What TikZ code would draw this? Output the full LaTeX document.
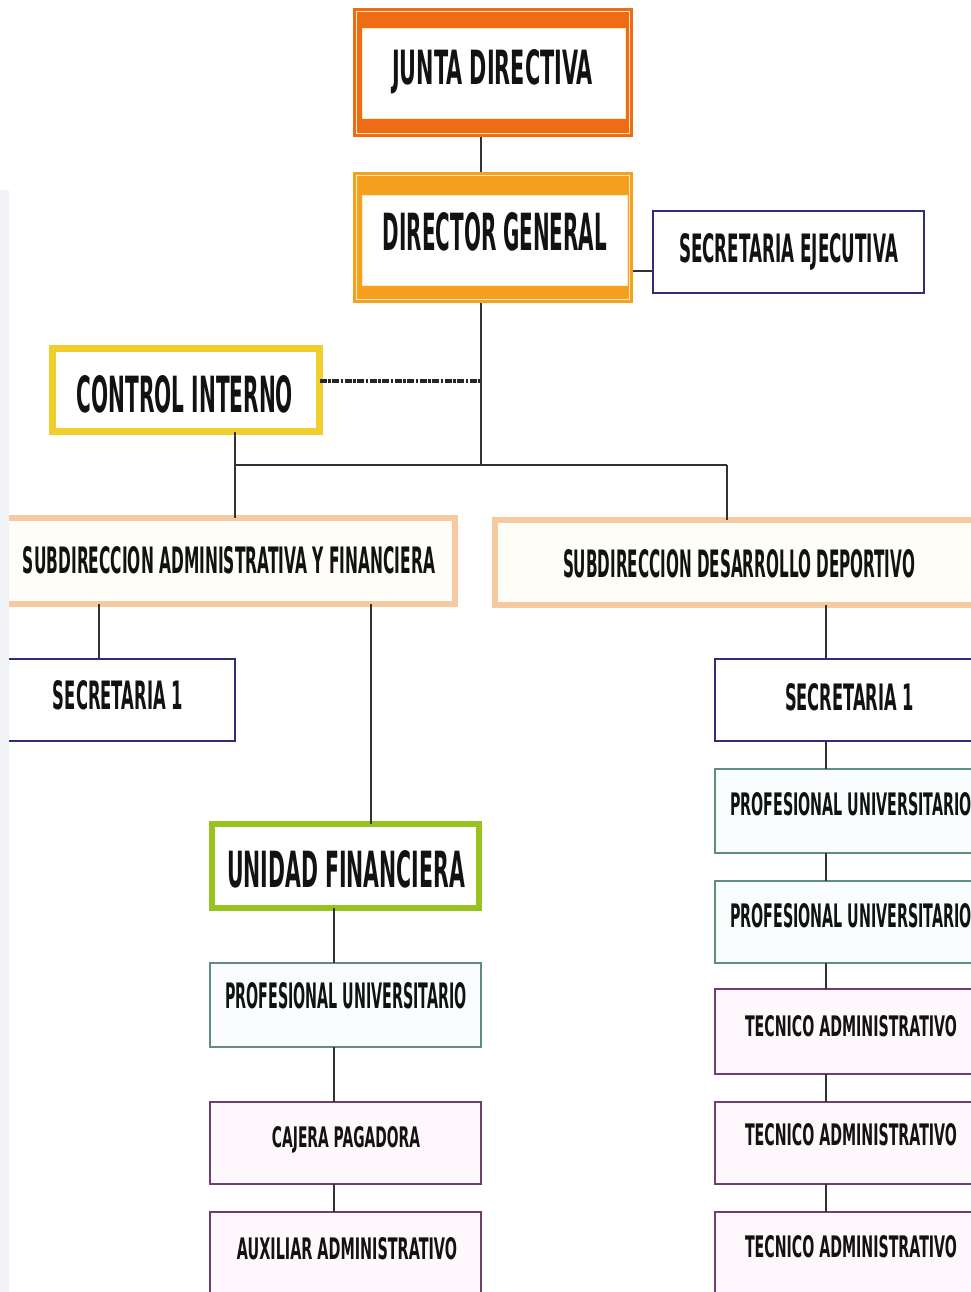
\documentclass[tikz,border=0pt]{standalone}
\usepackage{fontspec}
\setmainfont{DejaVu Sans}
\usepackage{graphicx}
\usetikzlibrary{calc}
\definecolor{jdorange}{RGB}{240,108,20}
\definecolor{dgorange}{RGB}{245,160,30}
\definecolor{ciyellow}{RGB}{240,206,44}
\definecolor{peach}{RGB}{245,202,160}
\definecolor{ufgreen}{RGB}{152,194,31}
\definecolor{navy}{RGB}{46,46,122}
\definecolor{tealb}{RGB}{96,140,130}
\definecolor{purpb}{RGB}{110,62,110}
\definecolor{linec}{RGB}{50,50,50}
\definecolor{creamline}{RGB}{255,236,190}
\definecolor{peachfill}{RGB}{255,253,247}
\definecolor{tealfill}{RGB}{249,253,253}
\definecolor{purpfill}{RGB}{254,248,252}
\definecolor{stripc}{RGB}{241,243,247}
\newcommand\orgtext[6]{\node[tx] (#1) at (#2,#3) {\resizebox{#4pt}{#5pt}{\bfseries #6}};}
\tikzset{
  tx/.style={anchor=base, inner sep=0pt, outer sep=0pt, text=black!93},
  boxbase/.style={rectangle, inner sep=0pt, outer sep=0pt},
  bigframe/.style={boxbase, fill=#1, draw=none},
  thickbox/.style={boxbase, draw=#1, line width=6.5pt, fill=white},
  peachbox/.style={boxbase, draw=peach, line width=6pt, fill=peachfill},
  navybox/.style={boxbase, draw=navy, line width=1.3pt, fill=white},
  tealbox/.style={boxbase, draw=tealb, line width=1.2pt, fill=tealfill},
  purpbox/.style={boxbase, draw=purpb, line width=1.2pt, fill=purpfill},
  conn/.style={draw=linec, line width=1.4pt},
  dotconn/.style={draw=black!85, line width=4.5pt, dash pattern=on 7pt off 1.5pt on 2.5pt off 1.5pt}
}
\begin{document}
\begin{tikzpicture}[x=1pt,y=-1pt]
\useasboundingbox (0,0) rectangle (971,1292);
\clip (0,0) rectangle (971,1292);
\fill[white] (0,0) rectangle (971,1292);

% helper coordinates
\coordinate (spine) at (481,0);
\coordinate (sejoin) at (0,271);
\coordinate (dotc) at (481,381);
\coordinate (busL) at (235,465);
\coordinate (busM) at (481,465);
\coordinate (busR) at (727,465);
\coordinate (safL) at (99,0);
\coordinate (safR) at (371,0);
\coordinate (ufx) at (334,0);
\coordinate (rx) at (826,0);

% top boxes
\node[bigframe=jdorange, minimum width=280, minimum height=129] (jd) at (493,72.5) {};
\node[bigframe=dgorange, minimum width=280, minimum height=131] (dg) at (493,237.5) {};
\draw[conn] (jd.south -| spine) -- (dg.north -| spine);
\draw[creamline, line width=1pt] ($(jd.north west)+(3.5,3.5)$) rectangle ($(jd.south east)+(-3.5,-3.5)$);
\draw[creamline, line width=1pt] ($(dg.north west)+(3.5,3.5)$) rectangle ($(dg.south east)+(-3.5,-3.5)$);
\fill[white] (362,28) rectangle (625,118);
\draw[creamline, line width=0.8pt] (362,28) rectangle (625,118);
\fill[white] (362,195) rectangle (627,285);
\draw[creamline, line width=0.8pt] (362,195) rectangle (627,285);

\node[navybox, minimum width=271, minimum height=82] (se) at (788.5,252) {};
\draw[conn] (dg.east |- sejoin) -- (se.west |- sejoin);

\node[thickbox=ciyellow, minimum width=267, minimum height=83] (ci) at (186,390) {};
\draw[dotconn] (ci.east |- dotc) -- (dotc);

\draw[conn] (dg.south -| spine) -- (busM);
\draw[conn] (busL) -- (busR);

\node[peachbox, minimum width=472, minimum height=86] (saf) at (219,561) {};
\node[peachbox, minimum width=502, minimum height=85] (sdd) at (746,562.5) {};
\draw[conn] (ci.south -| busL) -- (busL) -- (saf.north -| busL);
\draw[conn] (busR) -- (sdd.north -| busR);

\node[navybox, minimum width=255, minimum height=82] (s1l) at (107.5,700) {};
\node[navybox, minimum width=285, minimum height=82] (s1r) at (857.5,700) {};
\draw[conn] (saf.south -| safL) -- (s1l.north -| safL);
\draw[conn] (sdd.south -| rx) -- (s1r.north -| rx);

\node[thickbox=ufgreen, minimum width=267, minimum height=84] (uf) at (345.5,866) {};
\draw[conn] (saf.south -| safR) -- (uf.north -| safR);

\node[tealbox, minimum width=271, minimum height=84] (pul) at (345.5,1005) {};
\node[purpbox, minimum width=271, minimum height=82] (cp) at (345.5,1143) {};
\node[purpbox, minimum width=271, minimum height=108] (aa) at (345.5,1266) {};
\draw[conn] (uf.south -| ufx) -- (pul.north -| ufx);
\draw[conn] (pul.south -| ufx) -- (cp.north -| ufx);
\draw[conn] (cp.south -| ufx) -- (aa.north -| ufx);

\node[tealbox, minimum width=285, minimum height=84] (pur1) at (857.5,811) {};
\node[tealbox, minimum width=285, minimum height=82] (pur2) at (857.5,922) {};
\node[purpbox, minimum width=285, minimum height=85] (ta1) at (857.5,1031.5) {};
\node[purpbox, minimum width=285, minimum height=82] (ta2) at (857.5,1143) {};
\node[purpbox, minimum width=285, minimum height=108] (ta3) at (857.5,1266) {};
\draw[conn] (s1r.south -| rx) -- (pur1.north -| rx);
\draw[conn] (pur1.south -| rx) -- (pur2.north -| rx);
\draw[conn] (pur2.south -| rx) -- (ta1.north -| rx);
\draw[conn] (ta1.south -| rx) -- (ta2.north -| rx);
\draw[conn] (ta2.south -| rx) -- (ta3.north -| rx);

% left margin strip (covers the cut-off left ends of boxes)
\fill[white] (0,0) rectangle (9,1292);
\fill[stripc] (0,190) rectangle (9,1292);

% texts
\orgtext{jdT}{492.5}{85}{201}{35}{JUNTA DIRECTIVA}
\orgtext{dgT}{495}{250}{224}{38}{DIRECTOR GENERAL}
\orgtext{seT}{788.5}{262}{219}{29}{SECRETARIA EJECUTIVA}
\orgtext{ciT}{185}{412}{216}{37}{CONTROL INTERNO}
\orgtext{safT}{229}{573}{412}{27}{SUBDIRECCION ADMINISTRATIVA Y FINANCIERA}
\orgtext{sddT}{739}{577}{352}{28}{SUBDIRECCION DESARROLLO DEPORTIVO}
\orgtext{s1lT}{118}{709}{130}{29}{SECRETARIA 1}
\orgtext{s1rT}{849.5}{710}{129}{27}{SECRETARIA 1}
\orgtext{ufT}{346}{887}{238}{37}{UNIDAD FINANCIERA}
\orgtext{pulT}{346}{1008}{242}{26}{PROFESIONAL UNIVERSITARIO}
\orgtext{cpT}{346}{1147}{148}{21}{CAJERA PAGADORA}
\orgtext{aaT}{347}{1259}{220}{22}{AUXILIAR ADMINISTRATIVO}
\orgtext{pur1T}{851}{815}{242}{23}{PROFESIONAL UNIVERSITARIO}
\orgtext{pur2T}{851}{927}{242}{24}{PROFESIONAL UNIVERSITARIO}
\orgtext{ta1T}{851}{1036}{212}{21}{TECNICO ADMINISTRATIVO}
\orgtext{ta2T}{851}{1145}{212}{22}{TECNICO ADMINISTRATIVO}
\orgtext{ta3T}{851}{1257}{212}{22}{TECNICO ADMINISTRATIVO}
\end{tikzpicture}
\end{document}
